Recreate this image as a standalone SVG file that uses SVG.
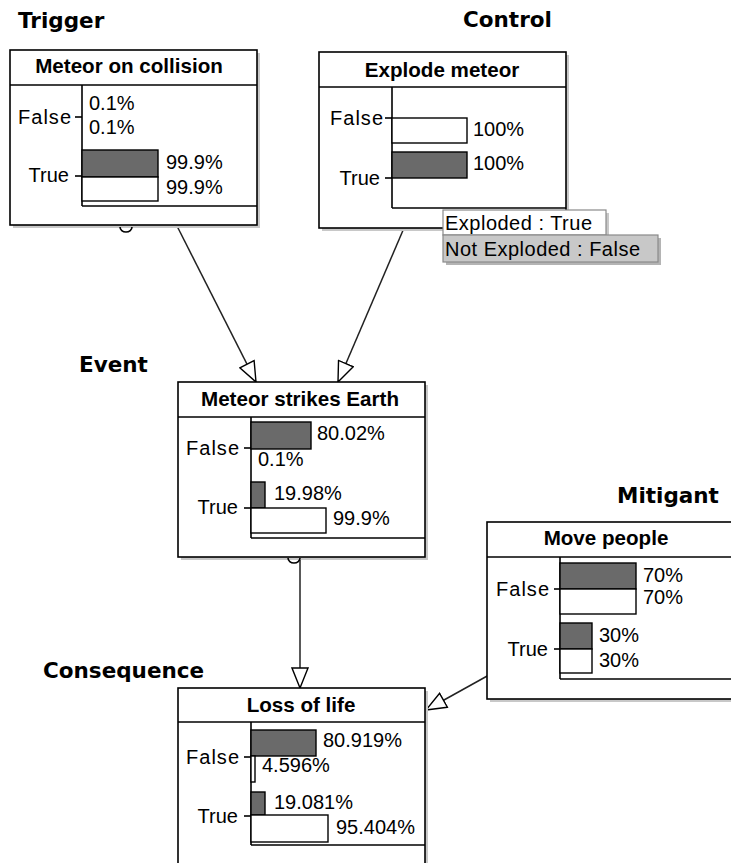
<svg xmlns="http://www.w3.org/2000/svg" width="731" height="863" viewBox="0 0 731 863">
<style>
.sec{font-family:"DejaVu Sans",sans-serif;font-weight:bold;font-size:21.5px;fill:#000}
.title{font-family:"Liberation Sans",Arial,sans-serif;font-weight:bold;font-size:20.6px;fill:#000;text-anchor:middle}
.t{font-family:"Liberation Sans",Arial,sans-serif;font-size:20px;fill:#000}
.lbl{font-family:"Liberation Sans",Arial,sans-serif;font-size:20px;fill:#000;text-anchor:end}
.box{fill:#fff;stroke:#000;stroke-width:1.6}
.shadow{fill:#c8c8c8}
.ln{stroke:#000;stroke-width:1.6;fill:none}
.dark{fill:#6a6a6a;stroke:#000;stroke-width:1.4}
.white{fill:#fff;stroke:#000;stroke-width:1.4}
.conn{stroke:#222;stroke-width:1.5;fill:none}
</style>
<defs>
<marker id="arr" viewBox="0 0 22 18" refX="21" refY="9" markerWidth="22" markerHeight="18" markerUnits="userSpaceOnUse" orient="auto">
<path d="M1,1 L21,9 L1,17 Z" fill="#fff" stroke="#000" stroke-width="1.4"/>
</marker>
</defs>
<rect width="731" height="863" fill="#fff"/>

<g id="section-labels">
<text class="sec" x="18" y="28">Trigger</text>
<text class="sec" x="463" y="27">Control</text>
<text class="sec" x="79" y="372">Event</text>
<text class="sec" x="43" y="678">Consequence</text>
<text class="sec" x="617" y="503">Mitigant</text>
</g>

<g id="connectors">
<line class="conn" x1="177" y1="226" x2="256" y2="382" marker-end="url(#arr)"/>
<line class="conn" x1="404" y1="228" x2="338" y2="382" marker-end="url(#arr)"/>
<line class="conn" x1="300" y1="557" x2="300" y2="688" marker-end="url(#arr)"/>
<line class="conn" x1="489" y1="675" x2="426" y2="710" marker-end="url(#arr)"/>
</g>

<g id="node-meteor-on-collision">
<rect class="shadow" x="13" y="53" width="247" height="175"/>
<rect class="box" x="10" y="50" width="247" height="175"/>
<line class="ln" x1="10" y1="85" x2="257" y2="85"/>
<text class="title" x="129" y="73">Meteor on collision</text>
<line class="ln" x1="82" y1="85" x2="82" y2="206"/>
<line class="ln" x1="82" y1="206" x2="257" y2="206"/>
<text class="lbl" x="71" y="124" textLength="53">False</text>
<line class="ln" x1="75" y1="117" x2="82" y2="117"/>
<text class="t" x="89" y="110">0.1%</text>
<text class="t" x="89" y="134">0.1%</text>
<rect class="dark" x="82" y="150" width="76" height="27"/>
<rect class="white" x="82" y="177" width="76" height="24"/>
<text class="lbl" x="69" y="182">True</text>
<line class="ln" x1="75" y1="176" x2="82" y2="176"/>
<text class="t" x="166" y="169">99.9%</text>
<text class="t" x="166" y="194">99.9%</text>
<path class="ln" d="M120,227 a6,5 0 0 0 12,0" stroke-width="1.2"/>
</g>

<g id="node-explode-meteor">
<rect class="shadow" x="322" y="55" width="247" height="176"/>
<rect class="box" x="319" y="52" width="247" height="176"/>
<line class="ln" x1="319" y1="87" x2="566" y2="87"/>
<text class="title" x="442" y="77">Explode meteor</text>
<line class="ln" x1="392" y1="87" x2="392" y2="208"/>
<line class="ln" x1="392" y1="208" x2="566" y2="208"/>
<text class="lbl" x="383" y="125" textLength="53">False</text>
<line class="ln" x1="385" y1="118" x2="392" y2="118"/>
<rect class="white" x="392" y="118" width="75" height="25"/>
<text class="t" x="473" y="136">100%</text>
<rect class="dark" x="392" y="152" width="75" height="26"/>
<text class="t" x="473" y="170">100%</text>
<text class="lbl" x="380" y="185">True</text>
<line class="ln" x1="385" y1="178" x2="392" y2="178"/>
</g>

<g id="tooltips">
<rect x="446" y="213" width="163" height="25" fill="#c8c8c8"/>
<rect x="443" y="210" width="163" height="25" fill="#fff" stroke="#8a8a8a" stroke-width="1.2"/>
<text class="t" x="445" y="229.5" textLength="147">Exploded : True</text>
<rect x="446" y="238" width="215" height="27" fill="#b4b4b4"/>
<rect x="443" y="235" width="215" height="27" fill="#c8c8c8" stroke="#8a8a8a" stroke-width="1.2"/>
<text class="t" x="445" y="256" textLength="195">Not Exploded : False</text>
</g>

<g id="node-meteor-strikes-earth">
<rect class="shadow" x="181" y="385" width="247" height="175"/>
<rect class="box" x="178" y="382" width="247" height="175"/>
<line class="ln" x1="178" y1="417" x2="425" y2="417"/>
<text class="title" x="300" y="406">Meteor strikes Earth</text>
<line class="ln" x1="251" y1="417" x2="251" y2="538"/>
<line class="ln" x1="251" y1="538" x2="425" y2="538"/>
<rect class="dark" x="251" y="422" width="60" height="27"/>
<text class="t" x="317" y="440">80.02%</text>
<text class="lbl" x="239" y="455" textLength="53">False</text>
<line class="ln" x1="244" y1="448" x2="251" y2="448"/>
<text class="t" x="258" y="466">0.1%</text>
<rect class="dark" x="251" y="482" width="14" height="26"/>
<text class="t" x="274" y="500">19.98%</text>
<rect class="white" x="251" y="508" width="75" height="25"/>
<text class="t" x="333" y="525">99.9%</text>
<text class="lbl" x="238" y="514">True</text>
<line class="ln" x1="244" y1="508" x2="251" y2="508"/>
<path class="ln" d="M288,558 a6,5 0 0 0 12,0" stroke-width="1.2"/>
</g>

<g id="node-move-people">
<rect class="shadow" x="490" y="525" width="247" height="177"/>
<rect class="box" x="487" y="522" width="247" height="177"/>
<line class="ln" x1="487" y1="557" x2="734" y2="557"/>
<text class="title" x="606" y="545">Move people</text>
<line class="ln" x1="560" y1="557" x2="560" y2="679"/>
<line class="ln" x1="560" y1="679" x2="734" y2="679"/>
<rect class="dark" x="560" y="563" width="76" height="26"/>
<rect class="white" x="560" y="589" width="76" height="25"/>
<text class="lbl" x="549" y="596" textLength="53">False</text>
<line class="ln" x1="554" y1="589" x2="560" y2="589"/>
<text class="t" x="643" y="582">70%</text>
<text class="t" x="643" y="604">70%</text>
<rect class="dark" x="560" y="623" width="32" height="26"/>
<rect class="white" x="560" y="649" width="32" height="24"/>
<text class="lbl" x="548" y="656">True</text>
<line class="ln" x1="554" y1="649" x2="560" y2="649"/>
<text class="t" x="599" y="642">30%</text>
<text class="t" x="599" y="667">30%</text>
</g>

<g id="node-loss-of-life">
<rect class="shadow" x="181" y="691" width="247" height="180"/>
<rect class="box" x="178" y="688" width="247" height="180"/>
<line class="ln" x1="178" y1="722" x2="425" y2="722"/>
<text class="title" x="301" y="712">Loss of life</text>
<line class="ln" x1="251" y1="722" x2="251" y2="845"/>
<line class="ln" x1="251" y1="845" x2="425" y2="845"/>
<rect class="dark" x="251" y="730" width="65" height="26"/>
<text class="t" x="323" y="747">80.919%</text>
<text class="lbl" x="239" y="764" textLength="53">False</text>
<line class="ln" x1="244" y1="757" x2="251" y2="757"/>
<rect class="white" x="251" y="756" width="4" height="26"/>
<text class="t" x="262" y="772">4.596%</text>
<rect class="dark" x="251" y="792" width="14" height="23"/>
<text class="t" x="274" y="809">19.081%</text>
<rect class="white" x="251" y="815" width="77" height="27"/>
<text class="t" x="336" y="834">95.404%</text>
<text class="lbl" x="238" y="823">True</text>
<line class="ln" x1="244" y1="816" x2="251" y2="816"/>
</g>
</svg>
